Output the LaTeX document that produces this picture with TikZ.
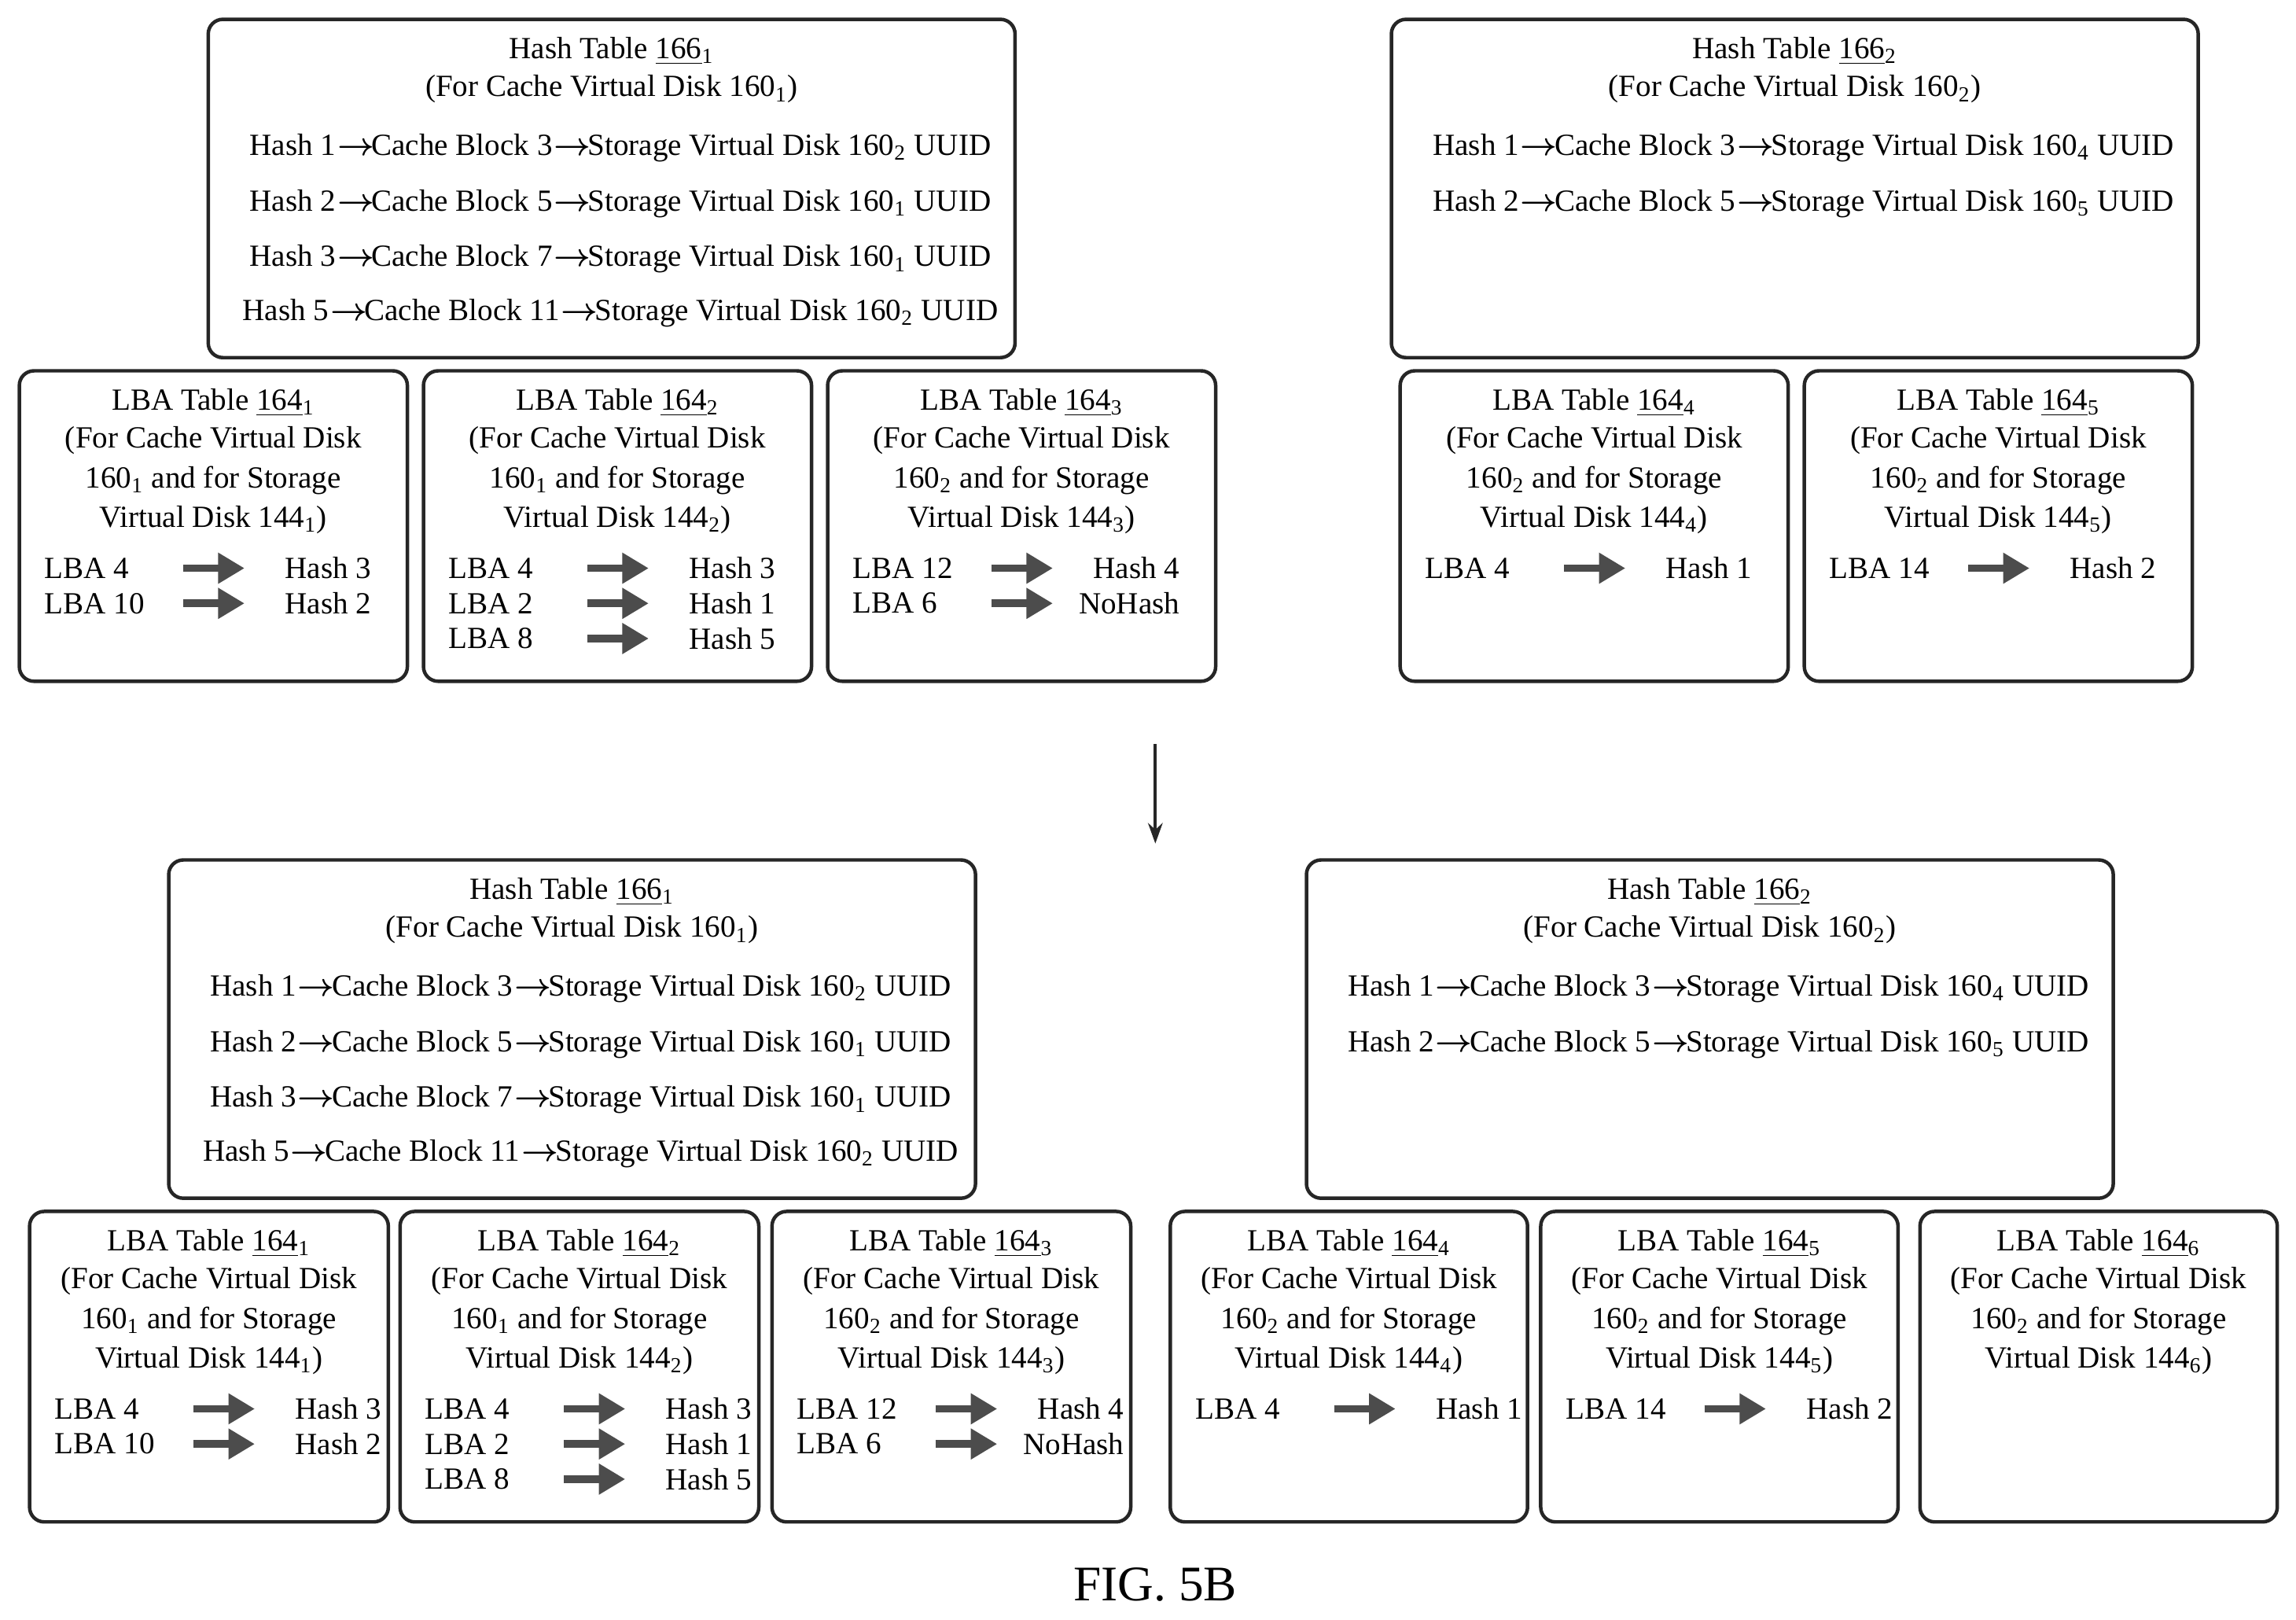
\documentclass[tikz,border=0pt]{standalone}
\usepackage{amsmath,amssymb}
\usepackage{fontspec}
\setmainfont{Liberation Serif}
\usetikzlibrary{positioning,calc,arrows.meta}

% one LBA table box with its four title lines
\newcommand\lbatab[6]{% name, x, y, width, table index, cache index
  \node[tbl, minimum width={#4*0.5pt}, minimum height={212*0.5pt}] (#1) at (#2,#3) {};
  \node[txt] (#1a) at ($(#1.north)+(0,23)$) {LBA Table \underline{164}\textsubscript{#5}};
  \node[txt] (#1b) at ($(#1.north)+(0,49)$) {(For Cache Virtual Disk};
  \node[txt] (#1c) at ($(#1.north)+(0,76)$) {160\textsubscript{#6} and for Storage};
  \node[txt] (#1d) at ($(#1.north)+(0,103)$) {Virtual Disk 144\textsubscript{#5})};
}
% one mapping row inside an LBA table
\newcommand\lbarow[4]{% box, y offset, lba, hash
  \node[txt, anchor=west] at ($(#1.north west)+(18,#2)$) {#3};
  \node[txt, anchor=east] at ($(#1.north west)+(242,#2)$) {#4};
  \draw[fat] ($(#1.north west)+(113,#2)$) -- ($(#1.north west)+(155,#2)$);
}
% one hash table box with its title
\newcommand\hashtab[4]{% name, x, y, index
  \node[tbl, minimum width={551*0.5pt}, minimum height={231*0.5pt}] (#1) at (#2,#3) {};
  \node[txt] (#1a) at ($(#1.north)+(0,23)$) {Hash Table \underline{166}\textsubscript{#4}};
  \node[txt] (#1b) at ($(#1.north)+(0,49)$) {(For Cache Virtual Disk 160\textsubscript{#4})};
}
\newcommand\hashrow[3]{% box, y offset, text
  \node[txt] at ($(#1.north)+(6,#2)$) {#3};
}
\newcommand\ar{\kern0.5pt$\boldsymbol{\rightarrow}$\kern-1pt}

\begin{document}
\begin{tikzpicture}[x=0.5pt, y=-0.5pt,
    tbl/.style={draw=black!85, line width=1.2pt, rounded corners=5pt, anchor=north west, inner sep=0pt},
    txt/.style={inner sep=0pt, font=\fontsize{10.5}{12}\selectfont},
    fat/.style={draw=black!70, line width=2.6pt, -{Triangle[length=9pt, width=10pt]}},
    flow/.style={draw=black!85, line width=1pt, -{Stealth[length=7pt, width=5pt]}}
  ]
  \useasboundingbox (0,0) rectangle (1568,1106);

  % before
  \hashtab{htA}{141}{12}{1}
  \hashrow{htA}{89}{Hash 1\ar Cache Block 3\ar Storage Virtual Disk 160\textsubscript{2} UUID}
  \hashrow{htA}{127}{Hash 2\ar Cache Block 5\ar Storage Virtual Disk 160\textsubscript{1} UUID}
  \hashrow{htA}{165}{Hash 3\ar Cache Block 7\ar Storage Virtual Disk 160\textsubscript{1} UUID}
  \hashrow{htA}{202}{Hash 5\ar Cache Block 11\ar Storage Virtual Disk 160\textsubscript{2} UUID}
  \hashtab{htB}{949}{12}{2}
  \hashrow{htB}{89}{Hash 1\ar Cache Block 3\ar Storage Virtual Disk 160\textsubscript{4} UUID}
  \hashrow{htB}{127}{Hash 2\ar Cache Block 5\ar Storage Virtual Disk 160\textsubscript{5} UUID}

  \lbatab{lA}{12}{252}{265}{1}{1}
  \lbarow{lA}{136}{LBA 4}{Hash 3}
  \lbarow{lA}{160}{LBA 10}{Hash 2}
  \lbatab{lB}{288}{252}{265}{2}{1}
  \lbarow{lB}{136}{LBA 4}{Hash 3}
  \lbarow{lB}{160}{LBA 2}{Hash 1}
  \lbarow{lB}{184}{LBA 8}{Hash 5}
  \lbatab{lC}{564}{252}{265}{3}{2}
  \lbarow{lC}{136}{LBA 12}{Hash 4}
  \lbarow{lC}{160}{LBA 6}{NoHash}
  \lbatab{lD}{955}{252}{265}{4}{2}
  \lbarow{lD}{136}{LBA 4}{Hash 1}
  \lbatab{lE}{1231}{252}{265}{5}{2}
  \lbarow{lE}{136}{LBA 14}{Hash 2}

  \coordinate (from) at (789,508);
  \coordinate (to) at (789,576);
  \draw[flow] (from) -- (to);

  % after
  \hashtab{htC}{114}{586}{1}
  \hashrow{htC}{89}{Hash 1\ar Cache Block 3\ar Storage Virtual Disk 160\textsubscript{2} UUID}
  \hashrow{htC}{127}{Hash 2\ar Cache Block 5\ar Storage Virtual Disk 160\textsubscript{1} UUID}
  \hashrow{htC}{165}{Hash 3\ar Cache Block 7\ar Storage Virtual Disk 160\textsubscript{1} UUID}
  \hashrow{htC}{202}{Hash 5\ar Cache Block 11\ar Storage Virtual Disk 160\textsubscript{2} UUID}
  \hashtab{htD}{891}{586}{2}
  \hashrow{htD}{89}{Hash 1\ar Cache Block 3\ar Storage Virtual Disk 160\textsubscript{4} UUID}
  \hashrow{htD}{127}{Hash 2\ar Cache Block 5\ar Storage Virtual Disk 160\textsubscript{5} UUID}

  \lbatab{lF}{19}{826}{245}{1}{1}
  \lbarow{lF}{136}{LBA 4}{Hash 3}
  \lbarow{lF}{160}{LBA 10}{Hash 2}
  \lbatab{lG}{272}{826}{245}{2}{1}
  \lbarow{lG}{136}{LBA 4}{Hash 3}
  \lbarow{lG}{160}{LBA 2}{Hash 1}
  \lbarow{lG}{184}{LBA 8}{Hash 5}
  \lbatab{lH}{526}{826}{245}{3}{2}
  \lbarow{lH}{136}{LBA 12}{Hash 4}
  \lbarow{lH}{160}{LBA 6}{NoHash}
  \lbatab{lI}{798}{826}{244}{4}{2}
  \lbarow{lI}{136}{LBA 4}{Hash 1}
  \lbatab{lJ}{1051}{826}{244}{5}{2}
  \lbarow{lJ}{136}{LBA 14}{Hash 2}
  \lbatab{lK}{1310}{826}{244}{6}{2}

  \node[txt, font=\fontsize{17}{20}\selectfont] (fig) at (789,1082) {FIG. 5B};
\end{tikzpicture}
\end{document}
